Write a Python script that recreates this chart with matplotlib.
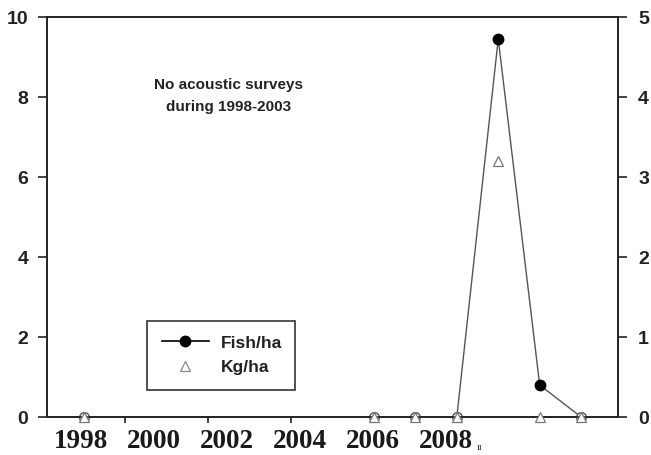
import numpy as np
import matplotlib
matplotlib.use("Agg")
import matplotlib.pyplot as plt
from matplotlib.lines import Line2D

nan = np.nan
# categorical slots along the x axis (survey years; gap = no surveys)
x_categories = ["1998", "", "", "", "", "", "", "2006", "2007", "2008", "2009", "2010", "2011"]
fish_per_ha = [0, nan, nan, nan, nan, nan, nan, 0, 0, 0, 9.45, 0.8, 0]
kg_per_ha = [0, nan, nan, nan, nan, nan, nan, 0, 0, 0, 3.2, 0, 0]
year_labels = ["1998", "2000", "2002", "2004", "2006", "2008"]
left_ticks = [0, 2, 4, 6, 8, 10]
right_ticks = [0, 1, 2, 3, 4, 5]
note = "No acoustic surveys\nduring 1998-2003"

sans = "Liberation Sans"
serif = "Liberation Serif"

fig = plt.figure(figsize=(6.51, 4.55), dpi=100)
L, R, B, T = 47/651, 618/651, (455-417)/455, (455-17)/455
ax = fig.add_axes([L, B, R-L, T-B])
ax2 = ax.twinx()

x = np.arange(len(x_categories))
fish = np.array(fish_per_ha, dtype=float)
kg = np.array(kg_per_ha, dtype=float)

# Fish/ha line
ax.plot(x, fish, color="#555555", lw=1.0, zorder=3, clip_on=False)
nz = fish > 0
z = fish == 0
ax.plot(x[z], fish[z], ls="none", marker="o", ms=7, mfc="white", mec="#555555",
        mew=1.0, zorder=4, clip_on=False)
ax.plot(x[nz], fish[nz], ls="none", marker="o", ms=7.5, mfc="black", mec="black",
        zorder=5, clip_on=False)
# Kg/ha triangles on right axis
ax2.plot(x, kg, ls="none", marker="^", ms=7, mfc="white", mec="#777777", mew=0.9,
         zorder=6, clip_on=False)

ax.set_xlim(-0.89, 12.89)
ax.set_ylim(0, 10)
ax2.set_ylim(0, 5)
ax.set_yticks(left_ticks)
ax2.set_yticks(right_ticks)
ax.set_xticks([1, 3, 5, 7, 8, 9, 11, 12])
ax.set_xticklabels([])

for a in (ax, ax2):
    for s in a.spines.values():
        s.set_linewidth(1.2)
        s.set_color("#222222")
ax.tick_params(axis="y", direction="out", length=6.5, width=1.2, pad=7,
               labelsize=14, color="#222222")
ax2.tick_params(axis="y", direction="out", length=6.5, width=1.2, pad=8,
                labelsize=14, color="#222222")
ax.tick_params(axis="x", direction="out", length=4.5, width=1.2, color="#222222")
for lab in ax.get_yticklabels() + ax2.get_yticklabels():
    lab.set_fontfamily(sans)
    lab.set_fontweight("bold")
    lab.set_color("#222222")

# year labels below axis (serif, bold), evenly spaced as in the source
for i, t in enumerate(year_labels):
    ax.text(0.0587 + i*0.1278, -0.078, t, transform=ax.transAxes, ha="center",
            va="baseline", fontsize=19.5, fontfamily=serif, fontweight="bold",
            color="#1a1a1a")
ax.text(0.753, -0.082, "ıı", transform=ax.transAxes, ha="left", va="baseline",
        fontsize=7.5, fontfamily=serif, color="#333333")

ax.text((229-47)/571, (417-96)/400, note, transform=ax.transAxes, ha="center",
        va="center", fontsize=11, fontfamily=sans, fontweight="bold",
        linespacing=1.75, color="#222222")

handles = [
    Line2D([], [], color="black", lw=1.2, marker="o", ms=7.5, mfc="black"),
    Line2D([], [], ls="none", marker="^", ms=7, mfc="white", mec="#888888", mew=0.9),
]
leg = ax2.legend(handles, ["Fish/ha", "Kg/ha"], loc="lower left",
                 bbox_to_anchor=(0.175, 0.0675, 0.259, 0.17), mode="expand",
                 borderaxespad=0, frameon=True, fancybox=False, borderpad=0.85,
                 handlelength=2.7, handletextpad=0.7, labelspacing=0.55,
                 prop={"family": sans, "weight": "bold", "size": 12.5})
leg.get_frame().set_edgecolor("black")
leg.get_frame().set_linewidth(1.2)
for t in leg.get_texts():
    t.set_color("#222222")

fig.savefig("out.png", dpi=100)
